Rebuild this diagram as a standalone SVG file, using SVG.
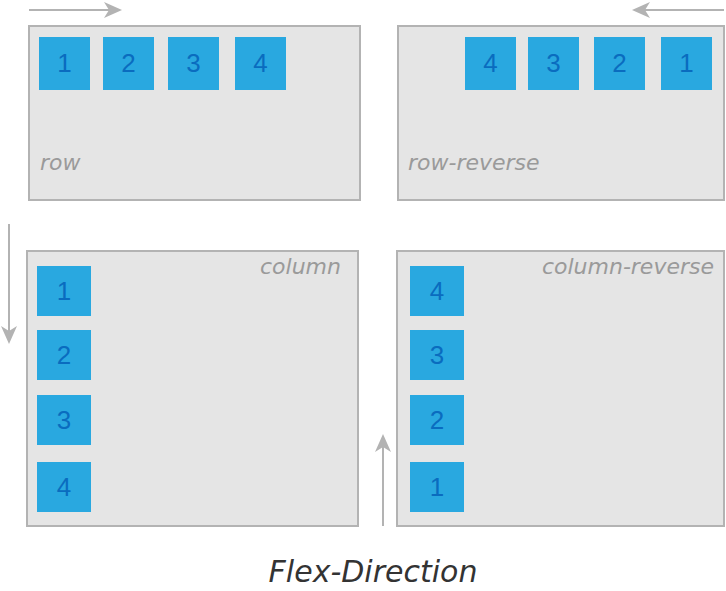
<svg xmlns="http://www.w3.org/2000/svg" width="726" height="591" viewBox="0 0 726 591">
<style>
.panel{fill:#e5e5e5;stroke:#b3b3b3;stroke-width:2}
.item{fill:#29a8e0}
.num{font-family:"Liberation Sans",Arial,sans-serif;font-size:26px;fill:#0a6cbf;text-anchor:middle;dominant-baseline:central}
.lbl{font-family:"DejaVu Sans",sans-serif;font-style:italic;font-size:22px;fill:#9a9a9a}
.arr{stroke:#b3b3b3;stroke-width:2;fill:none}
.head{fill:#b3b3b3}
</style>
<g id="connectors">
<path class="arr" d="M29,10 H110"/>
<path class="head" d="M104,2 L122,10 L104,18 L109,10 Z"/>
<path class="arr" d="M724,10 H645"/>
<path class="head" d="M650,2 L632,10 L650,18 L645,10 Z"/>
<path class="arr" d="M9,224 V331"/>
<path class="head" d="M1,326 L9,344 L17,326 L9,331 Z"/>
<path class="arr" d="M383,526 V447"/>
<path class="head" d="M375,452 L383,434 L391,452 L383,447 Z"/>
</g>
<g id="row">
<rect class="panel" x="29" y="26" width="331" height="174"/>
<rect class="item" x="39" y="37" width="51" height="53"/><text class="num" x="64.5" y="63">1</text>
<rect class="item" x="103" y="37" width="51" height="53"/><text class="num" x="128.5" y="63">2</text>
<rect class="item" x="168" y="37" width="51" height="53"/><text class="num" x="193.5" y="63">3</text>
<rect class="item" x="235" y="37" width="51" height="53"/><text class="num" x="260.5" y="63">4</text>
<text class="lbl" x="40" y="170">row</text>
</g>
<g id="row-reverse">
<rect class="panel" x="398" y="26" width="326" height="174"/>
<rect class="item" x="465" y="37" width="51" height="53"/><text class="num" x="490.5" y="63">4</text>
<rect class="item" x="528" y="37" width="51" height="53"/><text class="num" x="553.5" y="63">3</text>
<rect class="item" x="594" y="37" width="51" height="53"/><text class="num" x="619.5" y="63">2</text>
<rect class="item" x="661" y="37" width="51" height="53"/><text class="num" x="686.5" y="63">1</text>
<text class="lbl" x="408" y="170">row-reverse</text>
</g>
<g id="column">
<rect class="panel" x="27" y="251" width="331" height="275"/>
<rect class="item" x="37" y="266" width="54" height="50"/><text class="num" x="64" y="291">1</text>
<rect class="item" x="37" y="330" width="54" height="50"/><text class="num" x="64" y="355">2</text>
<rect class="item" x="37" y="395" width="54" height="50"/><text class="num" x="64" y="420">3</text>
<rect class="item" x="37" y="462" width="54" height="50"/><text class="num" x="64" y="487">4</text>
<text class="lbl" x="341" y="274" text-anchor="end">column</text>
</g>
<g id="column-reverse">
<rect class="panel" x="397" y="251" width="327" height="275"/>
<rect class="item" x="410" y="266" width="54" height="50"/><text class="num" x="437" y="291">4</text>
<rect class="item" x="410" y="330" width="54" height="50"/><text class="num" x="437" y="355">3</text>
<rect class="item" x="410" y="395" width="54" height="50"/><text class="num" x="437" y="420">2</text>
<rect class="item" x="410" y="462" width="54" height="50"/><text class="num" x="437" y="487">1</text>
<text class="lbl" x="714" y="274" text-anchor="end">column-reverse</text>
</g>
<text x="373" y="582" text-anchor="middle" font-family="DejaVu Sans, sans-serif" font-style="italic" font-size="30" fill="#333">Flex-Direction</text>
</svg>
